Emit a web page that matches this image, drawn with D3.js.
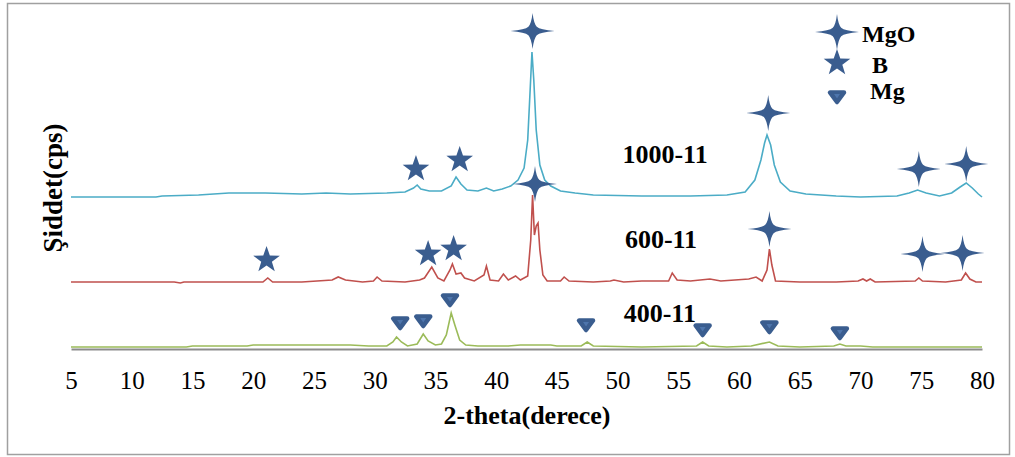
<!DOCTYPE html>
<html>
<head>
<meta charset="utf-8">
<script src="https://cdn.jsdelivr.net/npm/d3@7"></script>
<style>
body{margin:0;background:#fff;}
</style>
</head>
<body>
<div id="chart"></div>
<script>
// 2-theta ticks
const xTicks = [5,10,15,20,25,30,35,40,45,50,55,60,65,70,75,80];

// traces: [2-theta, cps] (already stacked)
const s1000 = [
  [5,1520],[12,1520],[12.5,1530],[15.5,1540],[18,1560],[21,1560],[24,1550],[26,1560],[28,1550],
  [31,1560],[32.5,1570],[33.2,1610],[33.5,1640],[33.8,1600],[34.5,1580],[35.5,1580],[36.3,1630],
  [36.7,1720],[37.1,1650],[37.6,1590],[38.5,1580],[39.2,1610],[39.8,1580],[40.5,1600],[41.2,1630],
  [41.8,1690],[42.3,1810],[42.6,2090],[42.8,2590],[42.95,2970],[43.1,2690],[43.3,2190],[43.6,1840],
  [44,1690],[44.5,1630],[45.3,1580],[46.5,1560],[48,1540],[52,1530],[56,1530],[59,1540],[60.5,1570],
  [61.3,1690],[61.8,1890],[62.1,2060],[62.3,2140],[62.6,2040],[62.9,1840],[63.4,1670],[64.2,1580],
  [65.5,1550],[68,1530],[70,1520],[73,1530],[74,1560],[74.7,1590],[75.4,1560],[76.5,1530],
  [77.5,1560],[78.2,1620],[78.7,1660],[79.2,1610],[79.7,1550],[80,1520]
];
const s600 = [
  [5,670],[13.5,670],[14,660],[14.3,670],[20.8,670],[21.2,710],[21.6,670],[24,670],[26.5,690],
  [27,720],[27.6,690],[29,670],[29.9,680],[30.2,720],[30.6,680],[32.5,670],[33.7,690],[34.1,710],
  [34.7,820],[35.2,710],[35.7,680],[36.2,790],[36.4,850],[36.7,750],[37.1,760],[37.4,710],[38.2,680],
  [39,740],[39.2,830],[39.5,690],[40.2,680],[40.6,750],[41,690],[41.6,730],[42,690],[42.6,730],
  [42.85,1090],[43,1540],[43.15,1140],[43.3,1230],[43.45,1260],[43.6,990],[43.85,740],[44.2,680],
  [45.3,680],[45.6,720],[46,680],[48,670],[49.4,680],[49.7,690],[50.5,670],[52,680],[54.2,680],
  [54.5,760],[54.9,690],[56,680],[57.6,700],[58.5,680],[60.8,700],[61.4,720],[61.9,680],[62.3,790],
  [62.5,1000],[62.7,840],[63,680],[65,670],[68,670],[69.8,680],[70.2,700],[70.5,680],[70.8,700],
  [71.2,670],[74.5,680],[74.8,710],[75.1,680],[77,670],[78.3,690],[78.65,760],[79,700],[79.5,670],[80,670]
];
const s400 = [
  [5,20],[14.5,20],[15,30],[17,30],[19.5,30],[20,40],[28,40],[29.5,30],[31,30],[31.5,70],[31.8,120],
  [32.2,70],[32.7,30],[33.5,50],[34,150],[34.4,80],[35,40],[35.5,50],[35.9,140],[36.3,360],[36.6,240],
  [37,90],[37.5,40],[38.5,30],[41,30],[42,40],[44.5,40],[45,30],[47,30],[47.5,70],[48,30],[52,20],
  [56.5,30],[57,70],[57.5,30],[59,20],[61,30],[62.5,70],[63.2,30],[65,20],[67.8,30],[68.3,50],
  [68.8,30],[70,30],[71,20],[80,20]
];

// peak markers [2-theta, cps]
const mgoMarks = [[43,3180],[62.4,2360],[74.8,1800],[78.7,1850],
                  [43.2,1650],[62.5,1200],[75.1,950],[78.4,960]];
const bMarks = [[33.4,1800],[37.0,1890],[21.1,890],[34.4,950],[36.5,1000]];
const mgMarks = [[32.1,260],[34.0,280],[36.2,490],[47.4,240],[57.0,190],[62.5,220],[68.3,160]];

// sample labels [text, 2-theta, cps]
const sampleLabels = [["1000-11",50.4,1860],["600-11",50.6,1010],["400-11",50.5,270]];

const W = 1015, H = 457;
const markColor = "#3a5d8f";
const serif = "'Liberation Serif','Times New Roman','DejaVu Serif','Noto Serif',Tinos,serif";

const svg = d3.select("#chart").append("svg")
  .attr("width",W).attr("height",H)
  .attr("font-family",serif);

svg.append("rect")
  .attr("x",7.5).attr("y",3.5)
  .attr("width",1002).attr("height",451)
  .attr("fill","none")
  .attr("stroke","#a0a0a0")
  .attr("stroke-width",1.5);

const x = d3.scaleLinear().domain([5,80]).range([71,982]);
const y = d3.scaleLinear().domain([0,3000]).range([349,49]);

// axis
const xAxis = d3.axisBottom(x).tickValues(xTicks).tickSize(0).tickPadding(22);
const ax = svg.append("g").attr("transform","translate(0,349)").call(xAxis)
  .attr("font-family",serif)
  .attr("font-size",25);
ax.select(".domain").attr("stroke","#8c8c8c").attr("stroke-width",2.2);
ax.selectAll("text")
  .style("font-family",serif)
  .attr("fill","#000");

svg.append("text")
  .attr("x",527).attr("y",424)
  .attr("text-anchor","middle")
  .style("font-family",serif)
  .style("font-size","26px")
  .style("font-weight","bold")
  .text("2-theta(derece)");

svg.append("text")
  .attr("transform","translate(62,188) rotate(-90)")
  .attr("text-anchor","middle")
  .style("font-family",serif)
  .style("font-size","27px")
  .style("font-weight","bold")
  .text("Şiddet(cps)");

const line = d3.line().x(d=>x(d[0])).y(d=>y(d[1]));
const series = [[s400,"#9bbb59"],[s600,"#c0504d"],[s1000,"#4bacc6"]];
series.forEach(([data,color])=>{
  svg.append("path")
    .datum(data)
    .attr("d",line)
    .attr("fill","none")
    .attr("stroke",color)
    .attr("stroke-width",1.6);
});

// marker shapes: four-point sparkle with tapering arms
const mgoPath = "M0,-18 Q1.2,-7.5 4.2,-4.2 Q7.5,-1.2 22,0 Q7.5,1.2 4.2,4.2 Q1.2,7.5 0,18 " +
                "Q-1.2,7.5 -4.2,4.2 Q-7.5,1.2 -22,0 Q-7.5,-1.2 -4.2,-4.2 Q-1.2,-7.5 0,-18 Z";
function starPath(R){
  const r = R*0.4, pts = [];
  for(let i=0;i<10;i++){
    const a = -Math.PI/2 + i*Math.PI/5;
    const rr = i%2 ? r : R;
    pts.push([rr*Math.cos(a), rr*Math.sin(a)]);
  }
  return "M"+pts.map(p=>p[0].toFixed(2)+","+p[1].toFixed(2)).join("L")+"Z";
}
const bPath = starPath(14);

function drawMg(g){
  g.append("path")
    .attr("d","M-7,-4.5L7,-4.5L0,5Z")
    .attr("fill",markColor)
    .attr("stroke",markColor)
    .attr("stroke-width",4.5)
    .attr("stroke-linejoin","round");
  g.append("path")
    .attr("d","M-3,-3L3,-3L0,1.5Z")
    .attr("fill","#5b86c0")
    .attr("opacity",0.6);
}

svg.selectAll(".mgo").data(mgoMarks).enter().append("path")
  .attr("class","mgo")
  .attr("transform",d=>"translate("+x(d[0])+","+y(d[1])+")")
  .attr("d",mgoPath)
  .attr("fill",markColor);

svg.selectAll(".bstar").data(bMarks).enter().append("path")
  .attr("class","bstar")
  .attr("transform",d=>"translate("+x(d[0])+","+y(d[1])+")")
  .attr("d",bPath)
  .attr("fill",markColor);

mgMarks.forEach(d=>{
  drawMg(svg.append("g").attr("transform","translate("+x(d[0])+","+y(d[1])+")"));
});

svg.selectAll(".slabel").data(sampleLabels).enter().append("text")
  .attr("class","slabel")
  .attr("x",d=>x(d[1])).attr("y",d=>y(d[2]))
  .style("font-family",serif)
  .style("font-size","26px")
  .style("font-weight","bold")
  .text(d=>d[0]);

// legend
const leg = svg.append("g");
leg.append("path").attr("transform","translate(837,32)").attr("d",mgoPath).attr("fill",markColor);
leg.append("path").attr("transform","translate(837,63)").attr("d",bPath).attr("fill",markColor);
drawMg(leg.append("g").attr("transform","translate(837,97)"));
[["MgO",862,42],["B",872,73],["Mg",870,99]].forEach(t=>{
  leg.append("text")
    .attr("x",t[1]).attr("y",t[2])
    .style("font-family",serif)
    .style("font-size","24px")
    .style("font-weight","bold")
    .text(t[0]);
});
</script>
</body>
</html>
